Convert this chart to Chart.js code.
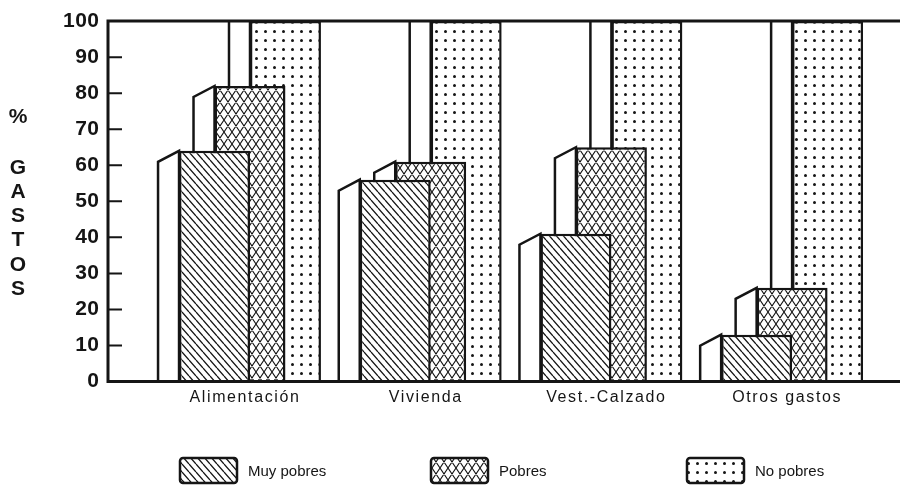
<!DOCTYPE html>
<html>
<head>
<meta charset="utf-8">
<script src="https://cdn.jsdelivr.net/npm/chart.js@4.4.1/dist/chart.umd.min.js"></script>
<style>
  html, body { margin: 0; padding: 0; background: #fff; }
  #c { display: block; }
</style>
</head>
<body>
<canvas id="c" width="900" height="485"></canvas>
<script>
// Distribución porcentual de gastos por nivel de pobreza
const categories = ['Alimentación', 'Vivienda', 'Vest.-Calzado', 'Otros gastos'];
const muyPobres = [64, 56, 41, 13];
const pobres = [82, 61, 65, 26];
const noPobres = [100, 100, 100, 100];
const seriesNames = ['Muy pobres', 'Pobres', 'No pobres'];
const yTickValues = [0, 10, 20, 30, 40, 50, 60, 70, 80, 90, 100];
const yTitleChars = ['%', 'G', 'A', 'S', 'T', 'O', 'S'];

const INK = '#151515';
const canvas = document.getElementById('c');
const ctx0 = canvas.getContext('2d');

// Monochrome fill patterns
function makePattern(w, h, paint) {
  const t = document.createElement('canvas');
  t.width = w; t.height = h;
  const g = t.getContext('2d');
  g.fillStyle = '#fff';
  g.fillRect(0, 0, w, h);
  g.strokeStyle = INK;
  g.fillStyle = INK;
  paint(g, w, h);
  return ctx0.createPattern(t, 'repeat');
}
const hatchPattern = makePattern(7, 8, (g, w, h) => {
  g.lineWidth = 1.3;
  g.beginPath();
  for (const o of [-w, 0, w]) { g.moveTo(o, 0); g.lineTo(o + w, h); }
  g.stroke();
});
const crossPattern = makePattern(8, 12, (g, w, h) => {
  g.lineWidth = 1.1;
  g.beginPath();
  for (const o of [-w, 0, w]) {
    g.moveTo(o, 0); g.lineTo(o + w, h);
    g.moveTo(o + w, 0); g.lineTo(o, h);
  }
  g.stroke();
});
const dotPattern = makePattern(9, 9, (g) => {
  g.beginPath();
  g.arc(4.5, 4.5, 1.5, 0, Math.PI * 2);
  g.fill();
});
const fills = [hatchPattern, crossPattern, dotPattern];

// Side faces giving each bar its depth
const DEPTH_X = 21, DEPTH_Y = 11;
const barDepth = {
  id: 'barDepth',
  beforeDatasetDraw(chart, args) {
    const { ctx, chartArea: a } = chart;
    ctx.save();
    ctx.beginPath();
    ctx.rect(a.left, a.top, a.right - a.left, a.bottom - a.top);
    ctx.clip();
    ctx.lineWidth = 2.5;
    ctx.strokeStyle = INK;
    ctx.fillStyle = '#fff';
    ctx.lineJoin = 'miter';
    for (const bar of args.meta.data) {
      const { x, y, base, width } = bar.getProps(['x', 'y', 'base', 'width'], true);
      const left = x - width / 2;
      ctx.beginPath();
      ctx.moveTo(left, base);
      ctx.lineTo(left - DEPTH_X, base);
      if (y <= a.top + 0.5) {
        ctx.lineTo(left - DEPTH_X, a.top - 4);
        ctx.lineTo(left, a.top - 4);
      } else {
        ctx.lineTo(left - DEPTH_X, y + DEPTH_Y);
        ctx.lineTo(left, y);
      }
      ctx.closePath();
      ctx.fill();
      ctx.stroke();
    }
    ctx.restore();
  }
};

// Per-axis letter spacing for the tick labels
const tickTracking = { x: '1.6px', y: '0.5px' };
const trackedLabels = {
  id: 'trackedLabels',
  beforeDraw(chart) {
    for (const id of Object.keys(tickTracking)) {
      const scale = chart.scales[id];
      if (!scale || scale._trackedDraw) continue;
      const original = scale.drawLabels.bind(scale);
      scale.drawLabels = (area) => {
        const c = scale.ctx;
        const prev = c.letterSpacing;
        c.letterSpacing = tickTracking[id];
        original(area);
        c.letterSpacing = prev;
      };
      scale._trackedDraw = true;
    }
  }
};

// Frame, inner tick marks, stacked axis title and legend
const decorations = {
  id: 'decorations',
  afterDatasetsDraw(chart) {
    const { ctx, chartArea: a, scales } = chart;
    ctx.save();
    ctx.strokeStyle = INK;
    ctx.lineWidth = 2;
    ctx.beginPath();
    for (const v of yTickValues) {
      const py = scales.y.getPixelForValue(v);
      ctx.moveTo(a.left, py);
      ctx.lineTo(a.left + 14, py);
    }
    ctx.stroke();
    ctx.lineWidth = 3;
    ctx.lineCap = 'square';
    ctx.beginPath();
    ctx.moveTo(a.right + 2, a.top);
    ctx.lineTo(a.left, a.top);
    ctx.lineTo(a.left, a.bottom);
    ctx.lineTo(a.right + 2, a.bottom);
    ctx.stroke();
    ctx.restore();
  },
  afterDraw(chart) {
    const { ctx } = chart;
    ctx.save();
    ctx.letterSpacing = '0px';
    ctx.fillStyle = INK;
    ctx.textAlign = 'center';
    ctx.textBaseline = 'middle';
    ctx.font = 'bold 21px "Liberation Sans", Arial, sans-serif';
    ctx.fillText(yTitleChars[0], 18, 117);
    yTitleChars.slice(1).forEach((ch, i) => ctx.fillText(ch, 18, 168 + i * 24.2));

    const boxes = [
      { x: 180, tx: 248 },
      { x: 431, tx: 499 },
      { x: 687, tx: 755 }
    ];
    ctx.font = '15px "Liberation Sans", Arial, sans-serif';
    ctx.textAlign = 'left';
    seriesNames.forEach((name, i) => {
      const b = boxes[i];
      ctx.save();
      ctx.beginPath();
      ctx.roundRect(b.x, 458, 57, 25, 3);
      ctx.fillStyle = fills[i];
      ctx.fill();
      ctx.lineWidth = 2.5;
      ctx.strokeStyle = INK;
      ctx.stroke();
      ctx.restore();
      ctx.fillText(name, b.tx, 472);
    });
    ctx.restore();
  }
};

const seriesValues = [muyPobres, pobres, noPobres];
const datasets = seriesValues.map((vals, i) => ({
  label: seriesNames[i],
  data: vals.map((v, k) => ({ x: k, y: v })),
  backgroundColor: fills[i],
  borderColor: INK,
  borderWidth: 2.5,
  borderSkipped: 'start',
  categoryPercentage: 0.589,
  barPercentage: 2.0
}));

new Chart(canvas, {
  type: 'bar',
  data: { datasets },
  plugins: [barDepth, trackedLabels, decorations],
  options: {
    responsive: false,
    animation: false,
    events: [],
    layout: { padding: { top: 20, bottom: 74, left: 0, right: 0 } },
    plugins: { legend: { display: false }, tooltip: { enabled: false } },
    scales: {
      x: {
        type: 'linear',
        offset: false,
        min: -0.7858,
        max: 3.597,
        grid: { display: false, drawTicks: false },
        border: { display: false },
        afterBuildTicks(scale) {
          scale.ticks = categories.map((_, i) => ({ value: i }));
        },
        afterFit(scale) { scale.height = 29.5; },
        ticks: {
          autoSkip: false,
          maxRotation: 0,
          padding: 6,
          labelOffset: -5,
          color: INK,
          font: { family: '"Liberation Sans", Arial, sans-serif', size: 16 },
          callback: (v) => categories[Math.round(v)]
        }
      },
      y: {
        min: 0,
        max: 100,
        grid: { display: false, drawTicks: false },
        border: { display: false },
        afterFit(scale) { scale.width = 108; },
        afterBuildTicks(scale) {
          scale.ticks = yTickValues.map(v => ({ value: v }));
        },
        ticks: {
          padding: 8.5,
          color: INK,
          font: { family: '"Liberation Sans", Arial, sans-serif', size: 21, weight: 'bold' }
        }
      }
    }
  }
});
</script>
</body>
</html>
